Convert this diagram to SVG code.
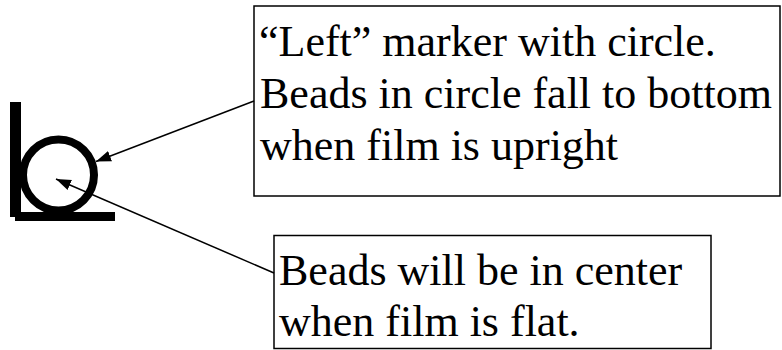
<svg xmlns="http://www.w3.org/2000/svg" width="782" height="350" viewBox="0 0 782 350">
<style>
.box{fill:#fff;stroke:#000;stroke-width:1.5}
.t{font-family:'Times New Roman','Liberation Serif','DejaVu Serif',serif;font-size:44px;fill:#000}
.con{stroke:#000;stroke-width:1.5;fill:none}
</style>
<defs>
<marker id="ah" markerUnits="userSpaceOnUse" markerWidth="16" markerHeight="12" refX="15" refY="6" orient="auto">
<path d="M0,0.5 L15,6 L0,11.5 Z" fill="#000"/>
</marker>
</defs>
<rect width="782" height="350" fill="#fff"/>
<g id="marker-b">
<rect x="10" y="102" width="11" height="115" fill="#000"/>
<rect x="15" y="212" width="100" height="9" fill="#000"/>
<circle cx="58.5" cy="175" r="35.5" fill="none" stroke="#000" stroke-width="8"/>
</g>
<g id="note-top">
<rect class="box" x="254" y="6" width="526" height="190"/>
<text class="t" x="259" y="56">“Left” marker with circle.</text>
<text class="t" x="260" y="108">Beads in circle fall to bottom</text>
<text class="t" x="260" y="160">when film is upright</text>
</g>
<g id="note-bottom">
<rect class="box" x="274" y="235.5" width="437" height="113"/>
<text class="t" x="279" y="285">Beads will be in center</text>
<text class="t" x="279" y="336">when film is flat.</text>
</g>
<g id="connectors">
<line class="con" x1="254" y1="101" x2="96" y2="161.5" marker-end="url(#ah)"/>
<line class="con" x1="274" y1="273" x2="56" y2="179" marker-end="url(#ah)"/>
</g>
</svg>
